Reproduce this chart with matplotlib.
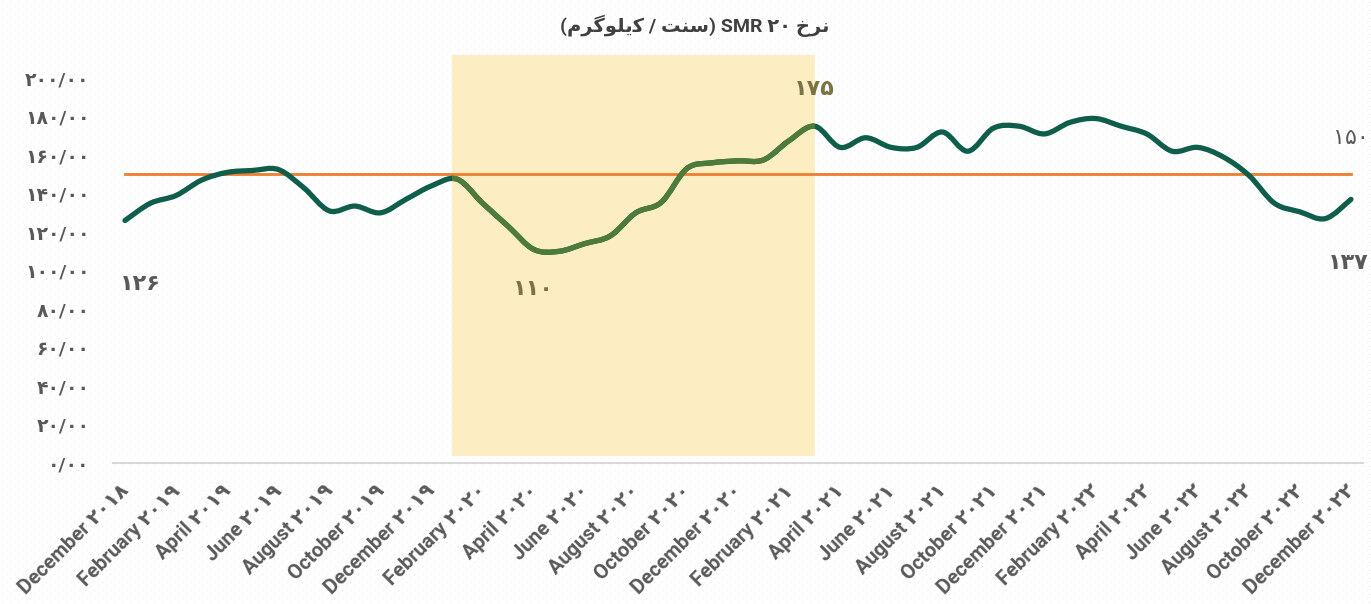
import numpy as np
import matplotlib.pyplot as plt
import matplotlib.transforms as mtransforms
from matplotlib.path import Path
from matplotlib.patches import PathPatch

# SMR 20 monthly price, Dec 2018 .. Dec 2022 (cents / kg)
prices = [126, 135, 139, 147, 151, 152, 152.5, 143, 131, 133.5, 130, 137, 144,
          147.5, 135, 123, 111, 110, 114, 118, 130, 135.5, 153, 156, 157, 157.5,
          167.5, 175, 164, 169, 164, 164, 172, 162, 174, 175, 171, 177, 179,
          175, 171, 162, 164, 159, 149.5, 135, 130.5, 127, 137]
avg_price = 150

tick_labels = ["December ۲۰۱۸", "February ۲۰۱۹", "April ۲۰۱۹", "June ۲۰۱۹",
               "August ۲۰۱۹", "October ۲۰۱۹", "December ۲۰۱۹", "February ۲۰۲۰",
               "April ۲۰۲۰", "June ۲۰۲۰", "August ۲۰۲۰", "October ۲۰۲۰",
               "December ۲۰۲۰", "February ۲۰۲۱", "April ۲۰۲۱", "June ۲۰۲۱",
               "August ۲۰۲۱", "October ۲۰۲۱", "December ۲۰۲۱", "February ۲۰۲۲",
               "April ۲۰۲۲", "June ۲۰۲۲", "August ۲۰۲۲", "October ۲۰۲۲",
               "December ۲۰۲۲"]

# highlighted period (month index)
span_start, span_end = 12.8, 27

# title in visual order, already shaped (matplotlib has no bidi/shaping)
title = "(\uFEE1\uFEAE\uFB94\uFEEE\uFEE0\uFBFE\uFB90 / \uFE96\uFEE8\uFEB3) SMR ۲۰ \uFEA5\uFEAE\uFEE7"

FA = str.maketrans("0123456789", "۰۱۲۳۴۵۶۷۸۹")


def fa(s):
    return str(s).translate(FA)


fonts = ["Roboto", "DejaVu Sans"]
gray = "#595959"
teal = "#0f5e4b"
olive = "#4e7a3a"
orange = "#ed7d31"

fig = plt.figure(figsize=(13.71, 6.04), dpi=100)
fig.patch.set_facecolor("white")

# light dotted backdrop
bg = np.ones((604, 1371, 3))
bg[2::8, 2::8] = 0.9
bg[6::8, 6::8] = 0.9
fig.figimage(bg, zorder=0)

ax = fig.add_axes([113 / 1371, 1 - 463 / 604, 1250 / 1371, 408 / 604])
ax.set_zorder(2)
ax.patch.set_visible(False)

x = np.arange(len(prices))
y = np.array(prices, dtype=float)


def smooth_path(xs, ys):
    # catmull-rom -> cubic bezier, like a smoothed spreadsheet line
    px = np.concatenate([[xs[0]], xs, [xs[-1]]])
    py = np.concatenate([[ys[0]], ys, [ys[-1]]])
    verts = [(xs[0], ys[0])]
    codes = [Path.MOVETO]
    for i in range(1, len(px) - 2):
        c1 = (px[i] + (px[i + 1] - px[i - 1]) / 6, py[i] + (py[i + 1] - py[i - 1]) / 6)
        c2 = (px[i + 1] - (px[i + 2] - px[i]) / 6, py[i + 1] - (py[i + 2] - py[i]) / 6)
        verts += [c1, c2, (px[i + 1], py[i + 1])]
        codes += [Path.CURVE4] * 3
    return Path(verts, codes)


span = ax.axvspan(span_start, span_end, ymin=0.017, ymax=1, color="#fdedc2", lw=0, zorder=1)

ax.plot([x[0], x[-1]], [avg_price, avg_price], color=orange, lw=2, zorder=2)

path = smooth_path(x, y)
ax.add_patch(PathPatch(path, fill=False, ec=teal, lw=3.8, capstyle="round",
                       joinstyle="round", zorder=3))
hl = PathPatch(path, fill=False, ec=olive, lw=3.8, capstyle="butt",
               joinstyle="round", zorder=4)
ax.add_patch(hl)
hl.set_clip_path(span)

ax.set_xlim(-0.47, len(prices) - 0.53)
ax.set_ylim(0, 212)
ax.set_yticks(np.arange(0, 201, 20))
ax.set_yticklabels([fa(f"{v:.2f}".replace(".", "/")) for v in np.arange(0, 201, 20)],
                   family=fonts, fontsize=13.5, fontweight="bold", color=gray)
ax.set_xticks(x[::2])
ax.set_xticklabels(tick_labels, rotation=45, ha="right", rotation_mode="anchor",
                   family=fonts, fontsize=14.5, fontweight="bold", color=gray)
ax.tick_params(axis="both", length=0)
ax.tick_params(axis="y", pad=17)
ax.tick_params(axis="x", pad=13)

# nudge rotated labels left so their ends sit under the ticks
shift = mtransforms.ScaledTranslation(-6 / 100, 0, fig.dpi_scale_trans)
for t in ax.get_xticklabels():
    t.set_transform(t.get_transform() + shift)

for s in ["top", "right", "left"]:
    ax.spines[s].set_visible(False)
ax.spines["bottom"].set_color("#d9d9d9")
ax.spines["bottom"].set_linewidth(1.5)

# data labels
i_min = int(np.argmin(y))
i_pk = 27
lab = dict(family=fonts, fontsize=16, fontweight="bold", ha="center", va="center",
           textcoords="offset points")
ax.annotate(fa(int(y[0])), (x[0], y[0]), xytext=(11, -46), color=gray, **lab)
ax.annotate(fa(int(y[i_min])), (x[i_min], y[i_min]), xytext=(-19, -27), color="#7a7444", **lab)
ax.annotate(fa(int(y[i_pk])), (x[i_pk], y[i_pk]), xytext=(0, 27), color="#7a7444", **lab)
ax.annotate(fa(int(y[-1])), (x[-1], y[-1]), xytext=(-2, -46), color=gray, **lab)
ax.annotate(fa(avg_price), (x[-1], avg_price), xytext=(0, 26), color=gray,
            **dict(lab, fontweight="normal"))

fig.text(0.507, 1 - 26 / 604, title, ha="center", va="center", family=fonts,
         fontsize=14, fontweight="bold", color="#404040")

fig.savefig("out.png", dpi=100)
